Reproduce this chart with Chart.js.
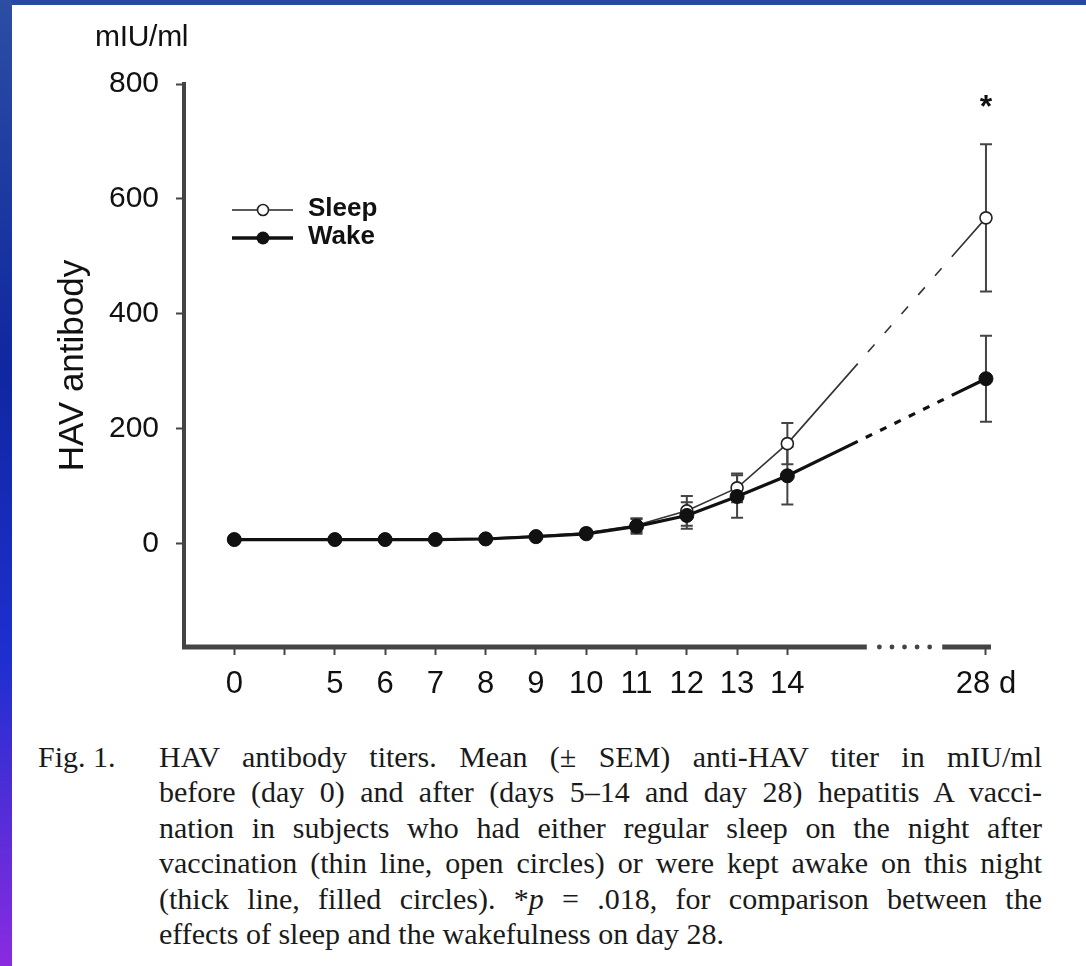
<!DOCTYPE html>
<html>
<head>
<meta charset="utf-8">
<script src="https://cdn.jsdelivr.net/npm/chart.js@4"></script>
<style>
  body { margin: 0; width: 1086px; height: 966px; background: #fff; position: relative; overflow: hidden; }
  #topbar { position: absolute; left: 0; top: 0; width: 1086px; height: 5px; background: #2649a2; z-index: 3; }
  #leftbar { position: absolute; left: 0; top: 0; width: 12px; height: 966px; z-index: 3;
    background: linear-gradient(to bottom, #2c4ea3 0%, #0f27a0 38%, #1d2fcf 68%, #8a2be0 100%); }
  #wrap { position: absolute; left: 0; top: 0; width: 1086px; height: 720px; }
  #unit { position: absolute; left: 95px; top: 21px; font: 30px "Liberation Sans", Arial, sans-serif; line-height: 30px; color: #111; letter-spacing: -0.3px; }
  #fig { position: absolute; left: 38px; top: 739px; font: 30px "Liberation Serif", "Times New Roman", serif; line-height: 35.4px; color: #1a1a1a; }
  #caption { position: absolute; left: 159px; top: 739px; width: 883px; font: 30px "Liberation Serif", "Times New Roman", serif; line-height: 35.4px; color: #1a1a1a; }
  #caption div { text-align: justify; text-align-last: justify; white-space: nowrap; }
  #caption div.last { text-align-last: left; }
</style>
</head>
<body>
<div id="topbar"></div>
<div id="leftbar"></div>
<div id="wrap"><canvas id="chart"></canvas></div>
<div id="unit">mIU/ml</div>
<div id="fig">Fig. 1.</div>
<div id="caption">
  <div>HAV antibody titers. Mean (± SEM) anti-HAV titer in mIU/ml</div>
  <div>before (day 0) and after (days 5–14 and day 28) hepatitis A vacci-</div>
  <div>nation in subjects who had either regular sleep on the night after</div>
  <div>vaccination (thin line, open circles) or were kept awake on this night</div>
  <div>(thick line, filled circles). *<i>p</i> = .018, for comparison between the</div>
  <div class="last">effects of sleep and the wakefulness on day 28.</div>
</div>
<script>
// days measured and where they sit on the (broken) x axis
const days = ["0", "5", "6", "7", "8", "9", "10", "11", "12", "13", "14", "28"];
const xSlot = [0, 2, 3, 4, 5, 6, 7, 8, 9, 10, 11, 14.95];

// axis ticks
const tickSlots = [0, 1, 2, 3, 4, 5, 6, 7, 8, 9, 10, 11, 14.95];
const tickLabels = ["0", "", "5", "6", "7", "8", "9", "10", "11", "12", "13", "14", "28 d"];
const yTicks = [0, 200, 400, 600, 800];

// mean +- SEM, mIU/ml
const sleepMean = [7, 7, 7, 8, 9, 13, 19, 32, 57, 97, 174, 567];
const sleepSem = [1, 1, 1, 1, 2, 3, 5, 12, 26, 25, 36, 128];
const wakeMean = [7, 7, 7, 7, 8, 12, 17, 30, 49, 82, 118, 287];
const wakeSem = [1, 1, 1, 1, 1, 2, 4, 13, 23, 37, 50, 75];

const sans = '"Liberation Sans", Arial, sans-serif';

// dashed stretch of the last segment, between the axis break
function breakDash(ctx, dash, gap) {
  if (ctx.p1DataIndex !== days.length - 1) return [];
  const xs = ctx.chart.scales.x;
  const p0 = ctx.p0, p1 = ctx.p1;
  const dx = p1.x - p0.x;
  const L = Math.hypot(dx, p1.y - p0.y);
  const a = (xs.getPixelForValue(12.4) - p0.x) / dx * L;
  const b = (xs.getPixelForValue(14.27) - p0.x) / dx * L;
  const n = Math.max(0, Math.floor((b - a - gap) / (dash + gap)));
  const g = (b - a - n * dash) / (n + 1);
  const pattern = [a];
  for (let i = 0; i < n; i++) pattern.push(g, dash);
  pattern.push(g, L - b + 20, 1000);
  return pattern;
}

const errorBars = {
  id: "errorBars",
  beforeDatasetsDraw(chart) {
    const { ctx } = chart;
    const xs = chart.scales.x, ys = chart.scales.y;
    const sets = [[sleepMean, sleepSem], [wakeMean, wakeSem]];
    ctx.save();
    ctx.strokeStyle = "#444";
    ctx.lineWidth = 2;
    sets.forEach(([mean, sem]) => {
      mean.forEach((m, i) => {
        const x = xs.getPixelForValue(xSlot[i]);
        const yt = ys.getPixelForValue(m + sem[i]);
        const yb = ys.getPixelForValue(m - sem[i]);
        ctx.beginPath();
        ctx.moveTo(x, yt); ctx.lineTo(x, yb);
        ctx.moveTo(x - 6, yt); ctx.lineTo(x + 6, yt);
        ctx.moveTo(x - 6, yb); ctx.lineTo(x + 6, yb);
        ctx.stroke();
      });
    });
    ctx.restore();
  }
};

const extras = {
  id: "extras",
  afterDraw(chart) {
    const { ctx, chartArea } = chart;
    const xs = chart.scales.x;
    ctx.save();
    // x axis with break
    const yb = chartArea.bottom;
    const b1 = xs.getPixelForValue(12.58), b2 = xs.getPixelForValue(14.08);
    ctx.strokeStyle = "#444";
    ctx.lineWidth = 5;
    ctx.beginPath();
    ctx.moveTo(chartArea.left - 2, yb); ctx.lineTo(b1, yb);
    ctx.moveTo(b2, yb); ctx.lineTo(chartArea.right, yb);
    ctx.stroke();
    ctx.fillStyle = "#444";
    const step = (b2 - b1) / 6;
    for (let k = 1; k <= 5; k++) {
      ctx.beginPath();
      ctx.arc(b1 + step * k, yb, 2.4, 0, Math.PI * 2);
      ctx.fill();
    }

    // legend
    ctx.strokeStyle = "#222";
    ctx.lineWidth = 1.6;
    ctx.beginPath(); ctx.moveTo(232, 210); ctx.lineTo(293, 210); ctx.stroke();
    ctx.fillStyle = "#fff";
    ctx.beginPath(); ctx.arc(263, 210, 5.5, 0, Math.PI * 2); ctx.fill(); ctx.stroke();
    ctx.strokeStyle = "#111";
    ctx.lineWidth = 3.5;
    ctx.beginPath(); ctx.moveTo(232, 238); ctx.lineTo(293, 238); ctx.stroke();
    ctx.fillStyle = "#111";
    ctx.beginPath(); ctx.arc(263, 238, 6.5, 0, Math.PI * 2); ctx.fill();
    ctx.font = "bold 26px " + sans;
    ctx.textBaseline = "middle";
    ctx.fillText("Sleep", 308, 209);
    ctx.fillText("Wake", 308, 237);

    // significance mark on day 28
    ctx.font = "bold 32px " + sans;
    ctx.textAlign = "center";
    ctx.textBaseline = "alphabetic";
    ctx.fillText("*", xs.getPixelForValue(xSlot[xSlot.length - 1]), 117);
    ctx.restore();
  }
};

new Chart(document.getElementById("chart"), {
  type: "line",
  data: {
    datasets: [
      {
        label: "Wake",
        data: wakeMean.map((v, i) => ({ x: xSlot[i], y: v })),
        borderColor: "#111",
        borderWidth: 3.2,
        pointRadius: 7,
        pointBackgroundColor: "#111",
        pointBorderColor: "#111",
        pointBorderWidth: 1,
        borderCapStyle: "butt",
        segment: { borderDash: (ctx) => breakDash(ctx, 7, 8) },
        clip: false,
        order: 0
      },
      {
        label: "Sleep",
        data: sleepMean.map((v, i) => ({ x: xSlot[i], y: v })),
        borderColor: "#333",
        borderWidth: 1.6,
        pointRadius: 6,
        pointBackgroundColor: "#fff",
        pointBorderColor: "#222",
        pointBorderWidth: 1.6,
        borderCapStyle: "butt",
        segment: { borderDash: (ctx) => breakDash(ctx, 10, 12) },
        clip: false,
        order: 1
      }
    ]
  },
  options: {
    responsive: true,
    maintainAspectRatio: false,
    animation: false,
    events: [],
    layout: { padding: { left: 0, top: 84, right: 95, bottom: 0 } },
    plugins: { legend: { display: false }, tooltip: { enabled: false } },
    scales: {
      x: {
        type: "linear",
        min: -1,
        max: 15.05,
        afterBuildTicks: (scale) => { scale.ticks = tickSlots.map((v) => ({ value: v })); },
        afterFit: (scale) => { scale.height = 73; },
        border: { display: false },
        grid: { drawOnChartArea: false, drawTicks: true, tickLength: 8, tickWidth: 2, tickColor: "#444" },
        ticks: {
          autoSkip: false,
          maxRotation: 0,
          padding: 11,
          color: "#111",
          font: { family: sans, size: 31 },
          callback: (value, index) => tickLabels[index]
        }
      },
      y: {
        min: -180,
        max: 800,
        afterBuildTicks: (scale) => { scale.ticks = yTicks.map((v) => ({ value: v })); },
        afterFit: (scale) => { scale.width = 184; },
        border: { display: true, width: 4, color: "#444" },
        grid: { drawOnChartArea: false, drawTicks: true, tickLength: 8, tickWidth: 2, tickColor: "#444" },
        ticks: { padding: 17, color: "#111", font: { family: sans, size: 30 } },
        title: {
          display: true,
          text: "HAV antibody",
          color: "#111",
          font: { family: sans, size: 35 },
          padding: { top: 52, bottom: 0 }
        }
      }
    }
  },
  plugins: [errorBars, extras]
});
</script>
</body>
</html>
